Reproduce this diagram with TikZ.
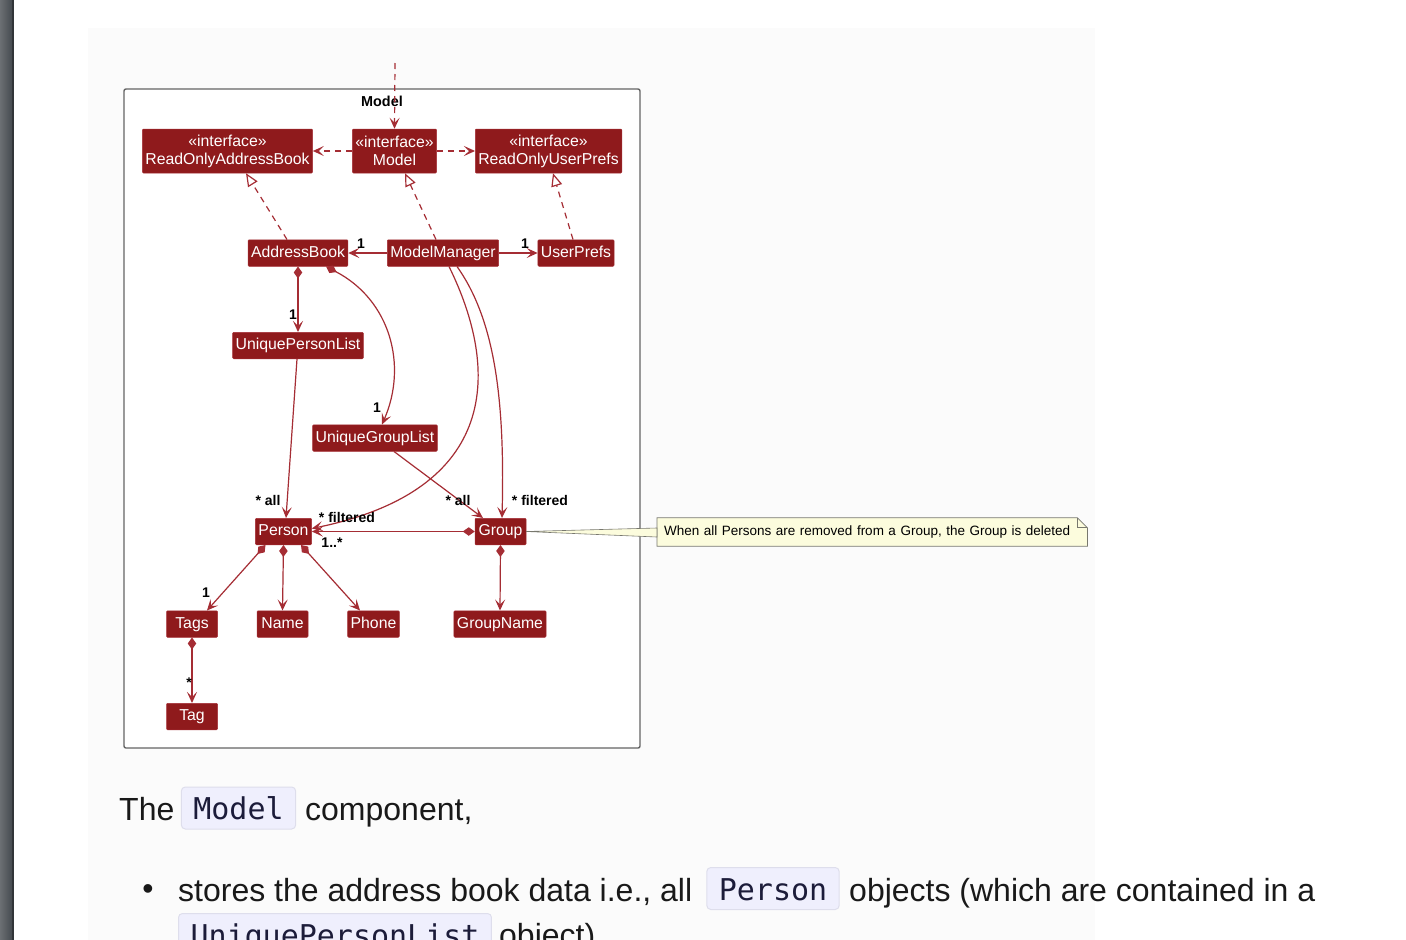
\documentclass[tikz,border=0pt]{standalone}
\usepackage{fontspec}
\setmainfont{Liberation Sans}
\setmonofont{DejaVu Sans Mono}
\usetikzlibrary{arrows.meta,positioning}
\definecolor{clsfill}{RGB}{143,26,28}
\definecolor{clsline}{RGB}{165,45,52}
\definecolor{notefill}{RGB}{252,252,221}
\definecolor{noteline}{RGB}{120,120,110}
\definecolor{codefill}{RGB}{239,239,253}
\definecolor{codeline}{RGB}{222,222,236}
\definecolor{codetext}{RGB}{28,28,58}
\definecolor{sidebar}{RGB}{70,75,80}
\definecolor{panel}{RGB}{251,251,251}
\definecolor{framecol}{RGB}{100,100,100}
\tikzset{
  cls/.style={fill=clsfill, draw=clsline, line width=0.5pt, text=white, rounded corners=1pt,
    inner xsep=3pt, inner ysep=0pt, minimum width=51pt, minimum height=26.5pt,
    text height=11.5pt, text depth=3.3pt, font=\fontsize{15.8}{18}\selectfont},
  iface/.style={cls, minimum height=44pt, align=center, text height=, text depth=},
  mult/.style={inner sep=0pt, font=\bfseries\fontsize{14}{16}\selectfont},
  link/.style={draw=clsline, line width=1.2pt},
  assoc/.style={link, -{Stealth[length=11pt,width=10pt,inset=5pt]}},
  comp/.style={link, {Diamond[length=12pt,width=8.5pt]}-{Stealth[length=11pt,width=10pt,inset=5pt]}},
  dep/.style={link, dash pattern=on 6pt off 5pt, -{Stealth[length=11pt,width=10pt,inset=5pt]}},
  realize/.style={link, dash pattern=on 6pt off 5pt, -{Triangle[open,fill=white,length=13pt,width=11pt]}},
  notebox/.style={fill=notefill, inner xsep=7pt, inner ysep=0pt, minimum height=28pt,
    text width=416pt, align=left, font=\fontsize{13.5}{16}\selectfont},
  pagetext/.style={inner sep=0pt, font=\fontsize{32}{38}\selectfont, text=black!90},
  codebox/.style={fill=codefill, draw=codeline, line width=1pt, rounded corners=4pt,
    inner xsep=12pt, inner ysep=0pt, minimum height=42pt, text height=26pt, text depth=3pt,
    text=codetext, font=\ttfamily\fontsize{30}{36}\selectfont}
}
\begin{document}
\begin{tikzpicture}[x=1pt,y=-1pt]
    \useasboundingbox (0,0) rectangle (1406,940);
    \clip (0,0) rectangle (1406,940);
    \fill[white] (0,0) rectangle (1406,940);
    \fill[panel] (88,28) rectangle (1095,940);
    \shade[left color=sidebar!80!white, right color=sidebar] (0,0) rectangle (12,940);
    \fill[sidebar!70!black] (12,0) rectangle (14,940);
    \draw[framecol, line width=1.4pt, fill=white, rounded corners=2pt] (124,89) rectangle (640,748);
    \node[inner sep=0pt, font=\bfseries\fontsize{14.4}{16}\selectfont] (mtitle) at (382,101) {Model};
    \coordinate (ext) at (395,63);
    \node[iface] (roab) at (227.5,151) {«interface»\\ReadOnlyAddressBook};
    \node[iface] (model) at (394.5,151) {«interface»\\Model};
    \node[iface] (roup) at (548.5,151) {«interface»\\ReadOnlyUserPrefs};
    \node[cls] (ab) at (298,253) {AddressBook};
    \node[cls] (mm) at (443,253) {ModelManager};
    \node[cls] (up) at (576,253) {UserPrefs};
    \node[cls] (upl) at (298,345.5) {UniquePersonList};
    \node[cls] (ugl) at (375,438) {UniqueGroupList};
    \node[cls] (person) at (283.5,531.5) {Person};
    \node[cls] (group) at (500.5,531.5) {Group};
    \node[cls] (tags) at (192,624) {Tags};
    \node[cls] (name) at (282.5,624) {Name};
    \node[cls] (phone) at (373.5,624) {Phone};
    \node[cls] (gname) at (500,624) {GroupName};
    \node[cls] (tag) at (192,716.5) {Tag};
    \node[notebox, anchor=west] (note) at (657,532) {When all Persons are removed from a Group, the Group is deleted};
    \fill[panel] ([xshift=-10pt]note.north east) -- (note.north east) -- ([yshift=-10pt]note.north east) -- cycle;
    \draw[noteline, line width=0.8pt] (note.north west) -- ([xshift=-10pt]note.north east) -- ([yshift=-10pt]note.north east) -- (note.south east) -- (note.south west) -- cycle;
    \draw[noteline, line width=0.8pt] ([xshift=-10pt]note.north east) |- ([yshift=-10pt]note.north east);
    \filldraw[fill=notefill, draw=noteline, line width=0.6pt] (group.east) -- ([yshift=4pt]note.west) -- ([yshift=-5pt]note.west) -- cycle;
    \draw[dep] (ext) -- (model.north);
    \draw[dep] (model.west) -- (roab.east);
    \draw[dep] (model.east) -- (roup.west);
    \draw[realize] ([xshift=-11pt]ab.north) -- ([xshift=18.5pt]roab.south);
    \draw[realize] ([xshift=-7pt]mm.north) -- ([xshift=10.5pt]model.south);
    \draw[realize] ([xshift=-3pt]up.north) -- ([xshift=4.5pt]roup.south);
    \draw[assoc] (mm.west) -- (ab.east);
    \draw[assoc] (mm.east) -- (up.west);
    \draw[comp] (ab.south) -- (upl.north);
    \draw[comp] ([xshift=28pt]ab.south) .. controls (390,300) and (408,365) .. ([xshift=7pt]ugl.north);
    \draw[assoc] ([xshift=-1pt]upl.south) -- ([xshift=2.5pt]person.north);
    \draw[assoc] ([xshift=19pt]ugl.south) -- ([xshift=-17.5pt]group.north);
    \draw[assoc] ([xshift=6pt]mm.south) .. controls (500,370) and (500,490) .. ([yshift=3pt]person.east);
    \draw[assoc] ([xshift=14pt]mm.south) .. controls (495,320) and (505,400) .. ([xshift=1.5pt]group.north);
    \draw[comp] (group.west) -- (person.east);
    \draw[comp] ([xshift=-18pt]person.south) -- ([xshift=15pt]tags.north);
    \draw[comp] (person.south) -- (name.north);
    \draw[comp] ([xshift=17.5pt]person.south) -- ([xshift=-13.5pt]phone.north);
    \draw[comp] (group.south) -- (gname.north);
    \draw[comp] (tags.south) -- (tag.north);
    \node[mult] (m1) at (361,244) {1};
    \node[mult] (m2) at (525,244) {1};
    \node[mult] (m3) at (293,315) {1};
    \node[mult] (m4) at (377,408) {1};
    \node[mult] (m5) at (268,500) {* all};
    \node[mult] (m6) at (458,500) {* all};
    \node[mult] (m7) at (540,500) {* filtered};
    \node[mult] (m8) at (347,517) {* filtered};
    \node[mult] (m9) at (332,543) {1..*};
    \node[mult] (m10) at (206,593) {1};
    \node[mult] (m11) at (189,683) {*};
    \node[pagetext, anchor=base west] (the) at (119,820) {The};
    \node[codebox] (codemodel) at (238.5,808) {Model};
    \node[pagetext, anchor=base west] (compo) at (305,820) {component,};
    \node[pagetext] (dot) at (148,892) {•};
    \node[pagetext, anchor=base west] (stores) at (178,901) {stores the address book data i.e., all};
    \node[codebox] (codeperson) at (773,888.5) {Person};
    \node[pagetext, anchor=base west] (objects) at (849,901) {objects (which are contained in a};
    \node[codebox, anchor=north west] (codeupl) at (178,913) {UniquePersonList};
    \node[pagetext, anchor=base west] (object) at (499,946) {object).};
\end{tikzpicture}
\end{document}
